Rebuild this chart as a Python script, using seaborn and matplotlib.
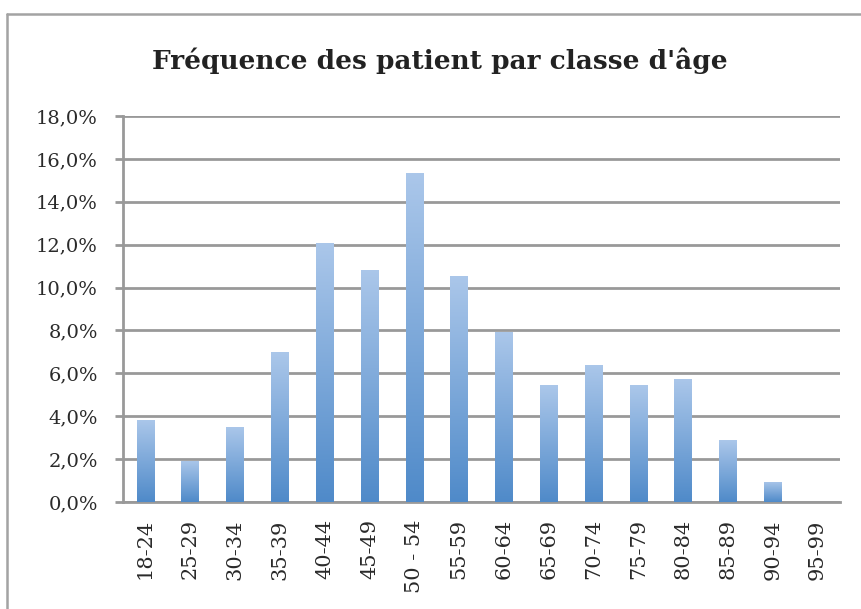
import numpy as np
import pandas as pd
import matplotlib
matplotlib.use("Agg")
import matplotlib.pyplot as plt
import seaborn as sns
from matplotlib.colors import LinearSegmentedColormap
from matplotlib.lines import Line2D

categories = ["18-24", "25-29", "30-34", "35-39", "40-44", "45-49", "50 - 54",
              "55-59", "60-64", "65-69", "70-74", "75-79", "80-84", "85-89",
              "90-94", "95-99"]
values = [3.83, 1.92, 3.52, 6.99, 12.10, 10.84, 15.34, 10.55, 7.95, 5.45,
          6.40, 5.45, 5.75, 2.87, 0.95, 0.0]
y_ticks = [0, 2, 4, 6, 8, 10, 12, 14, 16, 18]
y_tick_labels = ["0,0%", "2,0%", "4,0%", "6,0%", "8,0%", "10,0%", "12,0%",
                 "14,0%", "16,0%", "18,0%"]
title = "Fréquence des patient par classe d'âge"

sns.set_style("white")
plt.rcParams["font.family"] = ["DejaVu Serif", "DejaVu Sans"]

df = pd.DataFrame({"classe": categories, "freq": values})

fig = plt.figure(figsize=(8.61, 6.09), dpi=100)
ax = fig.add_axes([123 / 861, 1 - 502 / 609, (840 - 123) / 861, (502 - 116) / 609])

sns.barplot(data=df, x="classe", y="freq", ax=ax, width=0.39,
            color="#6E9FD6", saturation=1, zorder=3)

grid_color = "#999999"
ax.set_ylim(0, 18)
ax.set_xlim(-0.5, len(categories) - 0.5)
ax.set_yticks(y_ticks)
ax.set_yticklabels(y_tick_labels)
ax.yaxis.grid(True, color=grid_color, linewidth=2, zorder=0)
ax.set_axisbelow(True)
for s in ["top", "right"]:
    ax.spines[s].set_visible(False)
for s in ["left", "bottom"]:
    ax.spines[s].set_color(grid_color)
    ax.spines[s].set_linewidth(2)
ax.tick_params(axis="y", left=True, length=6, width=2, color=grid_color,
               pad=12, labelsize=14, labelcolor="#2a2a2a")
ax.tick_params(axis="x", bottom=False, pad=9, labelsize=15,
               labelcolor="#2a2a2a", labelrotation=90)
ax.set_xlabel("")
ax.set_ylabel("")

# gradient fill for bars
cmap = LinearSegmentedColormap.from_list("grad", ["#4F8AC9", "#ABC7EA"])
grad = np.linspace(0, 1, 256).reshape(-1, 1)
for p in list(ax.patches):
    h = p.get_height()
    if h <= 0:
        p.set_visible(False)
        continue
    x0 = p.get_x()
    w = p.get_width()
    im = ax.imshow(grad, cmap=cmap, aspect="auto", origin="lower",
                   extent=[x0, x0 + w, 0, h], zorder=3)
    im.set_clip_path(p)
    p.set_facecolor("none")
    p.set_edgecolor("none")
ax.set_xlim(-0.5, len(categories) - 0.5)
ax.set_ylim(0, 18)

fig.text(0.5105, 1 - 61 / 609, title, ha="center", va="center",
         fontsize=19, fontweight="bold", color="#222222")

# outer chart frame (cropped at right and bottom)
fc = "#A3A3A3"
fig.add_artist(Line2D([7 / 861, 1.0], [1 - 14 / 609, 1 - 14 / 609],
                      transform=fig.transFigure, color=fc, linewidth=1.8))
fig.add_artist(Line2D([7 / 861, 7 / 861], [1 - 14 / 609, 0.0],
                      transform=fig.transFigure, color=fc, linewidth=1.8))

fig.savefig("out.png", dpi=100)
